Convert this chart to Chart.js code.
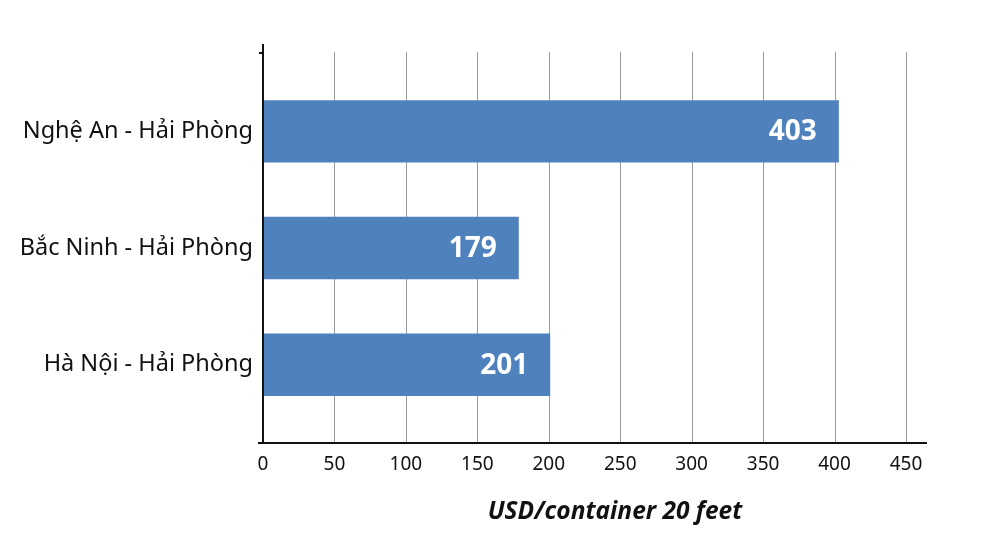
<!DOCTYPE html>
<html>
<head>
<meta charset="utf-8">
<script src="https://cdn.jsdelivr.net/npm/chart.js@4"></script>
<style>
  html, body { margin: 0; padding: 0; background: #fff; }
  #wrap { width: 1000px; height: 556px; }
</style>
</head>
<body>
<div id="wrap"><canvas id="bar-chart"></canvas></div>
<script>
var tuyen = ["Nghệ An - Hải Phòng", "Bắc Ninh - Hải Phòng", "Hà Nội - Hải Phòng"];
var chiPhi = [403, 179, 201];
var moc = [0, 50, 100, 150, 200, 250, 300, 350, 400, 450];
var tieuDeTruc = "USD/container 20 feet";

// ve truc, luoi va nhan
var trucPlugin = {
  id: "truc",
  beforeDatasetsDraw: function (chart) {
    var c = chart.ctx;
    var x = chart.scales.x;
    c.save();
    c.strokeStyle = "#9a9a9a";
    c.lineWidth = 1;
    moc.forEach(function (v) {
      if (v === 0) return;
      var px = Math.round(x.getPixelForValue(v)) + 0.5;
      c.beginPath();
      c.moveTo(px, 52);
      c.lineTo(px, 443);
      c.stroke();
    });
    c.restore();
  },
  afterDatasetsDraw: function (chart) {
    var c = chart.ctx;
    var x = chart.scales.x;
    var x0 = x.getPixelForValue(0);
    c.save();
    c.strokeStyle = "#111";
    c.lineWidth = 2;
    c.beginPath();
    c.moveTo(x0, 44);
    c.lineTo(x0, 444);
    c.moveTo(x0 - 5, 443);
    c.lineTo(927, 443);
    c.moveTo(x0 - 4, 53);
    c.lineTo(x0, 53);
    c.stroke();

    // so lieu tren cot
    c.fillStyle = "#fff";
    c.font = "bold 28px 'Open Sans'";
    c.textAlign = "right";
    c.textBaseline = "middle";
    chart.getDatasetMeta(0).data.forEach(function (bar, i) {
      c.fillText(chiPhi[i], bar.x - 22, bar.y + 1);
    });

    c.fillStyle = "#111";
    c.font = "italic bold 24.5px 'Open Sans'";
    c.textAlign = "center";
    c.fillText(tieuDeTruc, 615, 512);
    c.restore();
  }
};

var ctx = document.getElementById("bar-chart");
var myBarChart = new Chart(ctx, {
  type: "bar",
  data: {
    labels: tuyen,
    datasets: [
      {
        label: "USD/container 20 feet",
        backgroundColor: "#4f81bd",
        data: chiPhi,
        categoryPercentage: 1,
        barPercentage: 0.535
      }
    ]
  },
  options: {
    indexAxis: "y",
    responsive: true,
    maintainAspectRatio: false,
    animation: false,
    layout: { padding: { top: 73, bottom: 0, left: 0, right: 94 } },
    plugins: { legend: { display: false }, tooltip: { enabled: false } },
    scales: {
      x: {
        min: 0,
        max: 450,
        grid: { display: false, drawTicks: false },
        border: { display: false },
        afterFit: function (s) { s.height = 133; },
        ticks: {
          stepSize: 50,
          maxRotation: 0,
          padding: 30,
          color: "#111",
          font: { family: "'Noto Sans'", size: 19 }
        }
      },
      y: {
        grid: { display: false, drawTicks: false },
        border: { display: false },
        afterFit: function (s) { s.width = 263; },
        ticks: {
          padding: 10,
          color: "#111",
          font: { family: "'Noto Sans'", size: 23.5 }
        }
      }
    }
  },
  plugins: [trucPlugin]
});
</script>
</body>
</html>
